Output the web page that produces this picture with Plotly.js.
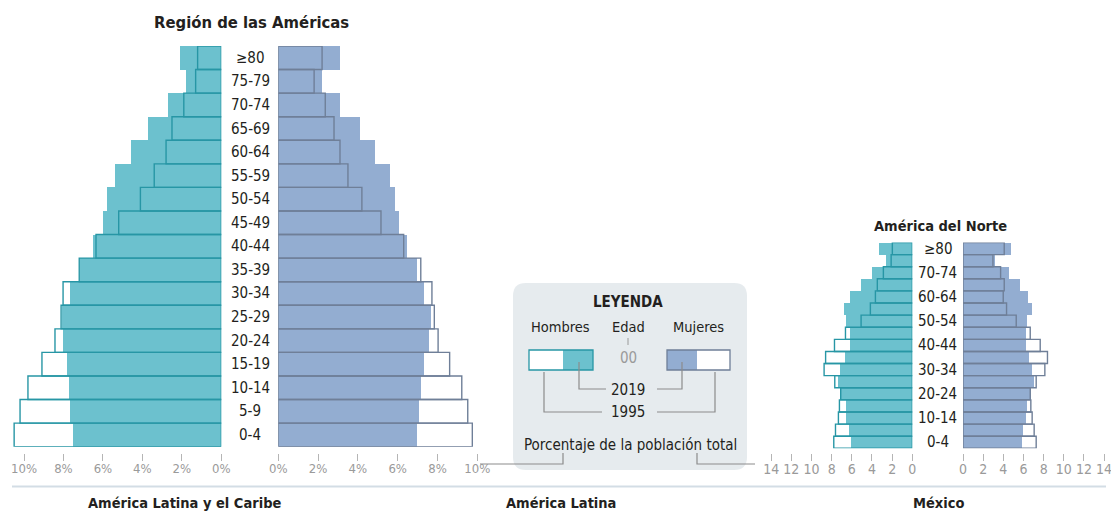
<!DOCTYPE html>
<html><head><meta charset="utf-8">
<script src="https://cdn.plot.ly/plotly-3.0.1.min.js"></script>
<style>html,body{margin:0;padding:0;background:#fff;overflow:hidden}#chart{width:1111px;height:513px}</style>
</head><body><div id="chart"></div>
<script>
// ---- DATA ----
const ages = ['0-4','5-9','10-14','15-19','20-24','25-29','30-34','35-39','40-44','45-49','50-54','55-59','60-64','65-69','70-74','75-79','≥80'];
const smallAgeLabels = ['0-4','10-14','20-24','30-34','40-44','50-54','60-64','70-74','≥80'];

// Región de las Américas (% de la población total)
const regionHombres2019 = [7.5,7.65,7.73,7.82,8.04,8.05,7.65,7.14,6.5,6.0,5.8,5.4,4.6,3.7,2.7,1.8,2.1];
const regionHombres1995 = [10.5,10.2,9.8,9.09,8.43,8.12,8.02,7.2,6.35,5.2,4.1,3.4,2.8,2.5,1.9,1.3,1.2];
const regionMujeres2019 = [6.97,7.05,7.17,7.34,7.57,7.66,7.34,6.99,6.45,6.07,5.86,5.6,4.86,4.1,3.1,2.2,3.1];
const regionMujeres1995 = [9.75,9.52,9.22,8.61,8.03,7.84,7.72,7.16,6.3,5.16,4.2,3.5,3.1,2.8,2.36,1.8,2.2];

// América del Norte
const norteHombres2019 = [6.1,6.3,6.57,6.57,7.13,7.39,7.13,6.63,6.2,6.2,6.57,6.73,6.2,5.1,4.03,2.57,3.27];
const norteHombres1995 = [7.79,7.62,7.33,7.23,7.1,7.69,8.75,8.6,7.72,6.63,5.08,4.16,3.66,3.47,2.87,2.1,1.98];
const norteMujeres2019 = [5.84,5.97,6.24,6.3,6.73,7.06,6.83,6.5,6.24,6.24,6.37,6.8,6.47,5.61,4.59,3.14,4.75];
const norteMujeres1995 = [7.26,7.06,6.86,6.73,6.67,7.26,8.12,8.38,7.66,6.67,5.28,4.32,3.99,4.09,3.73,2.97,4.09];

const mainTicks = [0,2,4,6,8,10];
const mainTickText = ['0%','2%','4%','6%','8%','10%'];
const smallTicks = [0,2,4,6,8,10,12,14];
const smallTickText = ['0','2','4','6','8','10','12','14'];

// ---- STYLE ----
const W = 1111, H = 513;
const px = x => x / W;
const py = y => 1 - y / H;
const FONT = '"Liberation Sans Narrow", "DejaVu Sans Condensed", "Arial Narrow", sans-serif';
const DARK = '#231f20';
const TEAL = '#6cc1ce', TEAL_LINE = '#2796a5';
const BLUE = '#93add1', BLUE_LINE = '#6f7f98';
const GRAY = '#8c8c8c';

function filled(x, xa, ya, color) {
  return {type:'bar', orientation:'h', x:x, y:ages, xaxis:xa, yaxis:ya, width:1,
    marker:{color:color, line:{width:0}}, hoverinfo:'x+y', showlegend:false};
}
function outline(x, xa, ya, color) {
  return {type:'bar', orientation:'h', x:x, y:ages, xaxis:xa, yaxis:ya, width:1,
    marker:{color:'rgba(0,0,0,0)', line:{width:1.4, color:color}}, hoverinfo:'x+y', showlegend:false};
}

const data = [
  filled(regionHombres2019,'x','y',TEAL), outline(regionHombres1995,'x','y',TEAL_LINE),
  filled(regionMujeres2019,'x2','y',BLUE), outline(regionMujeres1995,'x2','y',BLUE_LINE),
  filled(norteHombres2019,'x3','y2',TEAL), outline(norteHombres1995,'x3','y2',TEAL_LINE),
  filled(norteMujeres2019,'x4','y2',BLUE), outline(norteMujeres1995,'x4','y2',BLUE_LINE)
];

function xax(domain, range, tv, tt, fs) {
  return {domain:domain, range:range, anchor:'free', position:py(453), tickvals:tv, ticktext:tt,
    ticks:'outside', ticklen:7, tickwidth:1, tickcolor:'#b5b5b5', showgrid:false, zeroline:false,
    showline:false, tickfont:{family:FONT, size:fs, color:'#9a9a9a'}, ticklabelstandoff:-4,
    ticklabeloverflow:'allow', fixedrange:true};
}
function yax(domain, anchor) {
  return {domain:domain, range:[-0.5,16.5], type:'category', categoryarray:ages, anchor:anchor,
    showticklabels:false, ticks:'', showgrid:false, zeroline:false, showline:false, fixedrange:true};
}

const annotations = [];
function txt(x, y, text, size, bold, color) {
  annotations.push({xref:'paper', yref:'paper', x:px(x), y:py(y), text: bold ? '<b>'+text+'</b>' : text,
    showarrow:false, xanchor:'center', yanchor:'middle',
    font:{family:FONT, size:size, color:color||DARK}});
}
ages.forEach(a => annotations.push({xref:'paper', yref:'y', x:px(250), y:a, text:a, showarrow:false,
  xanchor:'center', yanchor:'middle', font:{family:FONT, size:15, color:DARK}}));
smallAgeLabels.forEach(a => annotations.push({xref:'paper', yref:'y2', x:px(937.5), y:a, text:a, showarrow:false,
  xanchor:'center', yanchor:'middle', font:{family:FONT, size:15, color:DARK}}));

txt(251, 22, 'Región de las Américas', 16.5, true);
txt(940, 226, 'América del Norte', 14.5, true);
txt(184, 503, 'América Latina y el Caribe', 14.5, true);
txt(561, 503, 'América Latina', 14.5, true);
txt(938, 503, 'México', 14.5, true);

// legend texts
txt(628, 302, 'LEYENDA', 15, true);
txt(560, 327, 'Hombres', 14.5);
txt(628, 327, 'Edad', 14.5);
txt(698, 327, 'Mujeres', 14.5);
txt(628, 358, '00', 15, false, '#9a9a9a');
txt(628, 390, '2019', 15);
txt(628, 412, '1995', 15);
txt(630, 445, 'Porcentaje de la población total', 15);

const shapes = [];
function path(pts, color, w) {
  const d = pts.map((p,i) => (i===0?'M':'L') + px(p[0]).toFixed(5) + ',' + py(p[1]).toFixed(5)).join(' ');
  shapes.push({type:'path', xref:'paper', yref:'paper', path:d, line:{color:color, width:w},
    fillcolor:'rgba(0,0,0,0)', layer:'above'});
}
function box(x0,x1,y0,y1,fill,line,lw) {
  shapes.push({type:'rect', xref:'paper', yref:'paper', x0:px(x0), x1:px(x1), y0:py(y1), y1:py(y0),
    fillcolor:fill, line:{width:lw||0, color:line||'rgba(0,0,0,0)'}, layer:'above'});
}
// rounded legend box
(function(){
  const x0=513,x1=747,y0=283,y1=470,r=13;
  const d = `M ${px(x0+r)},${py(y0)} L ${px(x1-r)},${py(y0)} Q ${px(x1)},${py(y0)} ${px(x1)},${py(y0+r)} `+
    `L ${px(x1)},${py(y1-r)} Q ${px(x1)},${py(y1)} ${px(x1-r)},${py(y1)} L ${px(x0+r)},${py(y1)} `+
    `Q ${px(x0)},${py(y1)} ${px(x0)},${py(y1-r)} L ${px(x0)},${py(y0+r)} Q ${px(x0)},${py(y0)} ${px(x0+r)},${py(y0)} Z`;
  shapes.push({type:'path', xref:'paper', yref:'paper', path:d, fillcolor:'#e6ebee', line:{width:0}, layer:'below'});
})();
// legend swatches
box(529,593,350,370,'#ffffff');
box(563,593,350,370,TEAL);
box(529,593,350,370,'rgba(0,0,0,0)',TEAL_LINE,1.3);
box(667,730,350,370,'#ffffff');
box(667,697,350,370,BLUE);
box(667,730,350,370,'rgba(0,0,0,0)',BLUE_LINE,1.3);
// legend leader lines
path([[628,338],[628,345]], '#9a9a9a', 1);
path([[579,362],[579,389],[606,389]], GRAY, 1.2);
path([[657,389],[682,389],[682,362]], GRAY, 1.2);
path([[544,372],[544,412],[602,412]], GRAY, 1.2);
path([[657,412],[715,412],[715,372]], GRAY, 1.2);
path([[563,453],[563,464],[480,464]], GRAY, 1.2);
path([[697,453],[697,464],[755,464]], GRAY, 1.2);
// separator
path([[12,486.5],[1106,486.5]], '#d3dde5', 2);

const layout = {
  width:W, height:H, margin:{l:0,r:0,t:0,b:0}, paper_bgcolor:'#ffffff', plot_bgcolor:'rgba(0,0,0,0)',
  barmode:'overlay', bargap:0, showlegend:false,
  xaxis: xax([0, px(221.3)], [221.3/19.73, 0], mainTicks, mainTickText, 13),
  xaxis2: xax([px(278.3), px(500)], [0, (500-278.3)/19.9], mainTicks, mainTickText, 13),
  xaxis3: xax([px(760), px(912.3)], [(912.3-760)/10.08, 0], smallTicks, smallTickText, 14),
  xaxis4: xax([px(963), 1], [0, (1111-963)/10.08], smallTicks, smallTickText, 14),
  yaxis: yax([py(446.7), py(46)], 'x'),
  yaxis2: yax([py(448.3), py(242.5)], 'x3'),
  annotations: annotations, shapes: shapes
};
Plotly.newPlot('chart', data, layout, {staticPlot:true, displayModeBar:false});
</script></body></html>
